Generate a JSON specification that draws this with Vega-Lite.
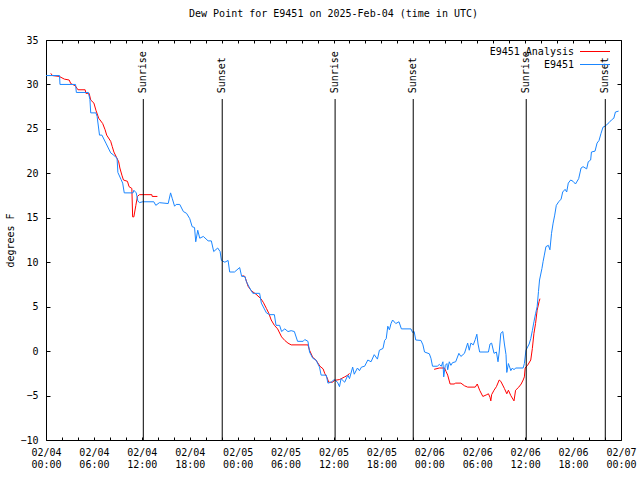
{
  "$schema": "https://vega.github.io/schema/vega-lite/v6.json",
  "width": 575,
  "height": 400,
  "autosize": {"type": "none"},
  "padding": {"left": 46, "top": 40, "right": 19, "bottom": 40},
  "background": "white",
  "title": {"text": "Dew Point for E9451 on 2025-Feb-04 (time in UTC)", "font": "DejaVu Sans Mono", "fontSize": 10, "fontWeight": "normal", "color": "black", "offset": 16, "anchor": "middle"},
  "datasets": {
    "dew": [
      {"s":"E9451 Analysis","g":"a1","t":"2025-02-04T00:36:00Z","v":31.25},
      {"s":"E9451 Analysis","g":"a1","t":"2025-02-04T00:48:00Z","v":31.0},
      {"s":"E9451 Analysis","g":"a1","t":"2025-02-04T01:40:00Z","v":30.9},
      {"s":"E9451 Analysis","g":"a1","t":"2025-02-04T02:18:00Z","v":30.6},
      {"s":"E9451 Analysis","g":"a1","t":"2025-02-04T02:54:00Z","v":30.5},
      {"s":"E9451 Analysis","g":"a1","t":"2025-02-04T03:06:00Z","v":30.1},
      {"s":"E9451 Analysis","g":"a1","t":"2025-02-04T03:40:00Z","v":29.85},
      {"s":"E9451 Analysis","g":"a1","t":"2025-02-04T04:00:00Z","v":29.4},
      {"s":"E9451 Analysis","g":"a1","t":"2025-02-04T04:54:00Z","v":29.4},
      {"s":"E9451 Analysis","g":"a1","t":"2025-02-04T05:00:00Z","v":29.0},
      {"s":"E9451 Analysis","g":"a1","t":"2025-02-04T05:24:00Z","v":29.0},
      {"s":"E9451 Analysis","g":"a1","t":"2025-02-04T05:36:00Z","v":28.25},
      {"s":"E9451 Analysis","g":"a1","t":"2025-02-04T06:00:00Z","v":27.9},
      {"s":"E9451 Analysis","g":"a1","t":"2025-02-04T06:15:00Z","v":27.1},
      {"s":"E9451 Analysis","g":"a1","t":"2025-02-04T06:36:00Z","v":26.2},
      {"s":"E9451 Analysis","g":"a1","t":"2025-02-04T07:06:00Z","v":25.6},
      {"s":"E9451 Analysis","g":"a1","t":"2025-02-04T07:24:00Z","v":24.9},
      {"s":"E9451 Analysis","g":"a1","t":"2025-02-04T07:36:00Z","v":24.3},
      {"s":"E9451 Analysis","g":"a1","t":"2025-02-04T08:06:00Z","v":23.6},
      {"s":"E9451 Analysis","g":"a1","t":"2025-02-04T08:18:00Z","v":23.0},
      {"s":"E9451 Analysis","g":"a1","t":"2025-02-04T08:30:00Z","v":22.4},
      {"s":"E9451 Analysis","g":"a1","t":"2025-02-04T09:06:00Z","v":21.3},
      {"s":"E9451 Analysis","g":"a1","t":"2025-02-04T09:15:00Z","v":20.6},
      {"s":"E9451 Analysis","g":"a1","t":"2025-02-04T09:30:00Z","v":19.8},
      {"s":"E9451 Analysis","g":"a1","t":"2025-02-04T09:42:00Z","v":19.25},
      {"s":"E9451 Analysis","g":"a1","t":"2025-02-04T10:12:00Z","v":19.1},
      {"s":"E9451 Analysis","g":"a1","t":"2025-02-04T10:24:00Z","v":18.5},
      {"s":"E9451 Analysis","g":"a1","t":"2025-02-04T10:45:00Z","v":18.3},
      {"s":"E9451 Analysis","g":"a1","t":"2025-02-04T10:51:00Z","v":15.1},
      {"s":"E9451 Analysis","g":"a1","t":"2025-02-04T11:00:00Z","v":15.1},
      {"s":"E9451 Analysis","g":"a1","t":"2025-02-04T11:15:00Z","v":16.4},
      {"s":"E9451 Analysis","g":"a1","t":"2025-02-04T11:27:00Z","v":17.4},
      {"s":"E9451 Analysis","g":"a1","t":"2025-02-04T11:42:00Z","v":17.6},
      {"s":"E9451 Analysis","g":"a1","t":"2025-02-04T13:15:00Z","v":17.6},
      {"s":"E9451 Analysis","g":"a1","t":"2025-02-04T13:18:00Z","v":17.4},
      {"s":"E9451 Analysis","g":"a1","t":"2025-02-04T13:57:00Z","v":17.4},
      {"s":"E9451 Analysis","g":"a2","t":"2025-02-05T00:36:00Z","v":8.5},
      {"s":"E9451 Analysis","g":"a2","t":"2025-02-05T00:54:00Z","v":8.4},
      {"s":"E9451 Analysis","g":"a2","t":"2025-02-05T01:18:00Z","v":7.3},
      {"s":"E9451 Analysis","g":"a2","t":"2025-02-05T01:42:00Z","v":6.8},
      {"s":"E9451 Analysis","g":"a2","t":"2025-02-05T02:18:00Z","v":6.4},
      {"s":"E9451 Analysis","g":"a2","t":"2025-02-05T02:54:00Z","v":5.9},
      {"s":"E9451 Analysis","g":"a2","t":"2025-02-05T03:12:00Z","v":5.5},
      {"s":"E9451 Analysis","g":"a2","t":"2025-02-05T03:36:00Z","v":4.8},
      {"s":"E9451 Analysis","g":"a2","t":"2025-02-05T03:54:00Z","v":4.25},
      {"s":"E9451 Analysis","g":"a2","t":"2025-02-05T04:12:00Z","v":3.5},
      {"s":"E9451 Analysis","g":"a2","t":"2025-02-05T04:36:00Z","v":2.9},
      {"s":"E9451 Analysis","g":"a2","t":"2025-02-05T05:00:00Z","v":2.5},
      {"s":"E9451 Analysis","g":"a2","t":"2025-02-05T05:30:00Z","v":1.6},
      {"s":"E9451 Analysis","g":"a2","t":"2025-02-05T05:54:00Z","v":1.2},
      {"s":"E9451 Analysis","g":"a2","t":"2025-02-05T06:18:00Z","v":0.9},
      {"s":"E9451 Analysis","g":"a2","t":"2025-02-05T06:42:00Z","v":0.7},
      {"s":"E9451 Analysis","g":"a2","t":"2025-02-05T08:48:00Z","v":0.7},
      {"s":"E9451 Analysis","g":"a2","t":"2025-02-05T09:00:00Z","v":0.1},
      {"s":"E9451 Analysis","g":"a2","t":"2025-02-05T09:24:00Z","v":-0.7},
      {"s":"E9451 Analysis","g":"a2","t":"2025-02-05T09:48:00Z","v":-1.0},
      {"s":"E9451 Analysis","g":"a2","t":"2025-02-05T10:18:00Z","v":-1.7},
      {"s":"E9451 Analysis","g":"a2","t":"2025-02-05T10:42:00Z","v":-2.0},
      {"s":"E9451 Analysis","g":"a2","t":"2025-02-05T10:54:00Z","v":-2.5},
      {"s":"E9451 Analysis","g":"a2","t":"2025-02-05T11:12:00Z","v":-3.0},
      {"s":"E9451 Analysis","g":"a2","t":"2025-02-05T11:24:00Z","v":-3.5},
      {"s":"E9451 Analysis","g":"a2","t":"2025-02-05T11:54:00Z","v":-3.5},
      {"s":"E9451 Analysis","g":"a2","t":"2025-02-05T12:06:00Z","v":-3.3},
      {"s":"E9451 Analysis","g":"a2","t":"2025-02-05T12:45:00Z","v":-3.2},
      {"s":"E9451 Analysis","g":"a2","t":"2025-02-05T13:24:00Z","v":-2.9},
      {"s":"E9451 Analysis","g":"a2","t":"2025-02-05T13:48:00Z","v":-2.7},
      {"s":"E9451 Analysis","g":"a2","t":"2025-02-05T14:00:00Z","v":-2.5},
      {"s":"E9451 Analysis","g":"a3","t":"2025-02-06T00:36:00Z","v":-2.05},
      {"s":"E9451 Analysis","g":"a3","t":"2025-02-06T01:15:00Z","v":-1.9},
      {"s":"E9451 Analysis","g":"a3","t":"2025-02-06T01:54:00Z","v":-1.9},
      {"s":"E9451 Analysis","g":"a3","t":"2025-02-06T02:06:00Z","v":-2.3},
      {"s":"E9451 Analysis","g":"a3","t":"2025-02-06T02:18:00Z","v":-2.7},
      {"s":"E9451 Analysis","g":"a3","t":"2025-02-06T02:36:00Z","v":-3.7},
      {"s":"E9451 Analysis","g":"a3","t":"2025-02-06T03:06:00Z","v":-3.7},
      {"s":"E9451 Analysis","g":"a3","t":"2025-02-06T03:18:00Z","v":-3.6},
      {"s":"E9451 Analysis","g":"a3","t":"2025-02-06T03:57:00Z","v":-3.6},
      {"s":"E9451 Analysis","g":"a3","t":"2025-02-06T04:24:00Z","v":-3.9},
      {"s":"E9451 Analysis","g":"a3","t":"2025-02-06T04:48:00Z","v":-4.05},
      {"s":"E9451 Analysis","g":"a3","t":"2025-02-06T05:45:00Z","v":-4.05},
      {"s":"E9451 Analysis","g":"a3","t":"2025-02-06T06:00:00Z","v":-3.7},
      {"s":"E9451 Analysis","g":"a3","t":"2025-02-06T06:18:00Z","v":-4.4},
      {"s":"E9451 Analysis","g":"a3","t":"2025-02-06T06:42:00Z","v":-5.1},
      {"s":"E9451 Analysis","g":"a3","t":"2025-02-06T07:12:00Z","v":-4.9},
      {"s":"E9451 Analysis","g":"a3","t":"2025-02-06T07:24:00Z","v":-4.8},
      {"s":"E9451 Analysis","g":"a3","t":"2025-02-06T07:36:00Z","v":-5.2},
      {"s":"E9451 Analysis","g":"a3","t":"2025-02-06T07:42:00Z","v":-5.6},
      {"s":"E9451 Analysis","g":"a3","t":"2025-02-06T07:48:00Z","v":-4.9},
      {"s":"E9451 Analysis","g":"a3","t":"2025-02-06T08:06:00Z","v":-4.4},
      {"s":"E9451 Analysis","g":"a3","t":"2025-02-06T08:24:00Z","v":-4.0},
      {"s":"E9451 Analysis","g":"a3","t":"2025-02-06T08:45:00Z","v":-3.25},
      {"s":"E9451 Analysis","g":"a3","t":"2025-02-06T08:57:00Z","v":-3.4},
      {"s":"E9451 Analysis","g":"a3","t":"2025-02-06T09:24:00Z","v":-4.2},
      {"s":"E9451 Analysis","g":"a3","t":"2025-02-06T09:42:00Z","v":-4.8},
      {"s":"E9451 Analysis","g":"a3","t":"2025-02-06T09:54:00Z","v":-4.4},
      {"s":"E9451 Analysis","g":"a3","t":"2025-02-06T10:12:00Z","v":-5.0},
      {"s":"E9451 Analysis","g":"a3","t":"2025-02-06T10:36:00Z","v":-5.6},
      {"s":"E9451 Analysis","g":"a3","t":"2025-02-06T10:48:00Z","v":-4.4},
      {"s":"E9451 Analysis","g":"a3","t":"2025-02-06T11:12:00Z","v":-4.05},
      {"s":"E9451 Analysis","g":"a3","t":"2025-02-06T11:30:00Z","v":-3.7},
      {"s":"E9451 Analysis","g":"a3","t":"2025-02-06T11:45:00Z","v":-3.25},
      {"s":"E9451 Analysis","g":"a3","t":"2025-02-06T11:54:00Z","v":-2.9},
      {"s":"E9451 Analysis","g":"a3","t":"2025-02-06T12:00:00Z","v":-1.9},
      {"s":"E9451 Analysis","g":"a3","t":"2025-02-06T12:18:00Z","v":-1.6},
      {"s":"E9451 Analysis","g":"a3","t":"2025-02-06T12:42:00Z","v":-1.0},
      {"s":"E9451 Analysis","g":"a3","t":"2025-02-06T12:54:00Z","v":0.3},
      {"s":"E9451 Analysis","g":"a3","t":"2025-02-06T13:06:00Z","v":2.0},
      {"s":"E9451 Analysis","g":"a3","t":"2025-02-06T13:18:00Z","v":3.1},
      {"s":"E9451 Analysis","g":"a3","t":"2025-02-06T13:30:00Z","v":4.6},
      {"s":"E9451 Analysis","g":"a3","t":"2025-02-06T13:45:00Z","v":5.6},
      {"s":"E9451 Analysis","g":"a3","t":"2025-02-06T13:51:00Z","v":5.9},
      {"s":"E9451","g":"b","t":"2025-02-04T00:00:00Z","v":31.0},
      {"s":"E9451","g":"b","t":"2025-02-04T01:42:00Z","v":31.0},
      {"s":"E9451","g":"b","t":"2025-02-04T01:45:00Z","v":30.0},
      {"s":"E9451","g":"b","t":"2025-02-04T03:42:00Z","v":30.0},
      {"s":"E9451","g":"b","t":"2025-02-04T03:48:00Z","v":29.1},
      {"s":"E9451","g":"b","t":"2025-02-04T05:18:00Z","v":29.1},
      {"s":"E9451","g":"b","t":"2025-02-04T05:30:00Z","v":28.3},
      {"s":"E9451","g":"b","t":"2025-02-04T05:36:00Z","v":26.8},
      {"s":"E9451","g":"b","t":"2025-02-04T06:15:00Z","v":26.8},
      {"s":"E9451","g":"b","t":"2025-02-04T06:24:00Z","v":26.4},
      {"s":"E9451","g":"b","t":"2025-02-04T06:42:00Z","v":24.3},
      {"s":"E9451","g":"b","t":"2025-02-04T07:00:00Z","v":24.3},
      {"s":"E9451","g":"b","t":"2025-02-04T07:30:00Z","v":23.4},
      {"s":"E9451","g":"b","t":"2025-02-04T08:06:00Z","v":22.3},
      {"s":"E9451","g":"b","t":"2025-02-04T08:24:00Z","v":22.1},
      {"s":"E9451","g":"b","t":"2025-02-04T08:54:00Z","v":21.7},
      {"s":"E9451","g":"b","t":"2025-02-04T09:00:00Z","v":20.1},
      {"s":"E9451","g":"b","t":"2025-02-04T09:24:00Z","v":19.3},
      {"s":"E9451","g":"b","t":"2025-02-04T09:36:00Z","v":18.9},
      {"s":"E9451","g":"b","t":"2025-02-04T09:48:00Z","v":17.8},
      {"s":"E9451","g":"b","t":"2025-02-04T10:54:00Z","v":17.8},
      {"s":"E9451","g":"b","t":"2025-02-04T11:00:00Z","v":18.1},
      {"s":"E9451","g":"b","t":"2025-02-04T11:18:00Z","v":17.8},
      {"s":"E9451","g":"b","t":"2025-02-04T11:30:00Z","v":16.9},
      {"s":"E9451","g":"b","t":"2025-02-04T11:42:00Z","v":16.7},
      {"s":"E9451","g":"b","t":"2025-02-04T12:06:00Z","v":16.8},
      {"s":"E9451","g":"b","t":"2025-02-04T13:30:00Z","v":16.8},
      {"s":"E9451","g":"b","t":"2025-02-04T13:45:00Z","v":16.4},
      {"s":"E9451","g":"b","t":"2025-02-04T14:12:00Z","v":16.7},
      {"s":"E9451","g":"b","t":"2025-02-04T15:18:00Z","v":16.6},
      {"s":"E9451","g":"b","t":"2025-02-04T15:36:00Z","v":17.8},
      {"s":"E9451","g":"b","t":"2025-02-04T15:48:00Z","v":17.2},
      {"s":"E9451","g":"b","t":"2025-02-04T16:06:00Z","v":16.3},
      {"s":"E9451","g":"b","t":"2025-02-04T16:18:00Z","v":16.5},
      {"s":"E9451","g":"b","t":"2025-02-04T16:45:00Z","v":16.5},
      {"s":"E9451","g":"b","t":"2025-02-04T17:12:00Z","v":15.7},
      {"s":"E9451","g":"b","t":"2025-02-04T17:36:00Z","v":15.5},
      {"s":"E9451","g":"b","t":"2025-02-04T18:00:00Z","v":14.9},
      {"s":"E9451","g":"b","t":"2025-02-04T18:18:00Z","v":14.0},
      {"s":"E9451","g":"b","t":"2025-02-04T18:36:00Z","v":13.9},
      {"s":"E9451","g":"b","t":"2025-02-04T18:45:00Z","v":12.3},
      {"s":"E9451","g":"b","t":"2025-02-04T19:00:00Z","v":13.6},
      {"s":"E9451","g":"b","t":"2025-02-04T19:15:00Z","v":12.7},
      {"s":"E9451","g":"b","t":"2025-02-04T19:42:00Z","v":12.9},
      {"s":"E9451","g":"b","t":"2025-02-04T20:18:00Z","v":12.4},
      {"s":"E9451","g":"b","t":"2025-02-04T20:42:00Z","v":12.4},
      {"s":"E9451","g":"b","t":"2025-02-04T21:00:00Z","v":11.2},
      {"s":"E9451","g":"b","t":"2025-02-04T21:30:00Z","v":11.6},
      {"s":"E9451","g":"b","t":"2025-02-04T21:48:00Z","v":11.2},
      {"s":"E9451","g":"b","t":"2025-02-04T21:58:00Z","v":10.2},
      {"s":"E9451","g":"b","t":"2025-02-04T22:24:00Z","v":10.0},
      {"s":"E9451","g":"b","t":"2025-02-04T22:48:00Z","v":10.2},
      {"s":"E9451","g":"b","t":"2025-02-04T23:00:00Z","v":8.9},
      {"s":"E9451","g":"b","t":"2025-02-04T23:36:00Z","v":8.9},
      {"s":"E9451","g":"b","t":"2025-02-05T00:15:00Z","v":9.4},
      {"s":"E9451","g":"b","t":"2025-02-05T00:30:00Z","v":8.4},
      {"s":"E9451","g":"b","t":"2025-02-05T00:54:00Z","v":8.4},
      {"s":"E9451","g":"b","t":"2025-02-05T01:06:00Z","v":7.8},
      {"s":"E9451","g":"b","t":"2025-02-05T01:30:00Z","v":7.1},
      {"s":"E9451","g":"b","t":"2025-02-05T01:54:00Z","v":6.5},
      {"s":"E9451","g":"b","t":"2025-02-05T02:45:00Z","v":6.5},
      {"s":"E9451","g":"b","t":"2025-02-05T02:58:00Z","v":5.4},
      {"s":"E9451","g":"b","t":"2025-02-05T03:36:00Z","v":4.3},
      {"s":"E9451","g":"b","t":"2025-02-05T04:00:00Z","v":4.1},
      {"s":"E9451","g":"b","t":"2025-02-05T04:36:00Z","v":4.1},
      {"s":"E9451","g":"b","t":"2025-02-05T04:48:00Z","v":2.9},
      {"s":"E9451","g":"b","t":"2025-02-05T05:15:00Z","v":2.9},
      {"s":"E9451","g":"b","t":"2025-02-05T05:30:00Z","v":2.2},
      {"s":"E9451","g":"b","t":"2025-02-05T05:54:00Z","v":2.5},
      {"s":"E9451","g":"b","t":"2025-02-05T06:18:00Z","v":2.2},
      {"s":"E9451","g":"b","t":"2025-02-05T06:42:00Z","v":2.3},
      {"s":"E9451","g":"b","t":"2025-02-05T07:06:00Z","v":2.2},
      {"s":"E9451","g":"b","t":"2025-02-05T07:30:00Z","v":1.1},
      {"s":"E9451","g":"b","t":"2025-02-05T08:12:00Z","v":1.1},
      {"s":"E9451","g":"b","t":"2025-02-05T08:24:00Z","v":1.3},
      {"s":"E9451","g":"b","t":"2025-02-05T08:48:00Z","v":1.1},
      {"s":"E9451","g":"b","t":"2025-02-05T09:00:00Z","v":-0.1},
      {"s":"E9451","g":"b","t":"2025-02-05T09:24:00Z","v":-0.8},
      {"s":"E9451","g":"b","t":"2025-02-05T09:48:00Z","v":-1.0},
      {"s":"E9451","g":"b","t":"2025-02-05T10:15:00Z","v":-1.8},
      {"s":"E9451","g":"b","t":"2025-02-05T10:27:00Z","v":-2.7},
      {"s":"E9451","g":"b","t":"2025-02-05T11:06:00Z","v":-2.7},
      {"s":"E9451","g":"b","t":"2025-02-05T11:18:00Z","v":-3.6},
      {"s":"E9451","g":"b","t":"2025-02-05T11:42:00Z","v":-3.5},
      {"s":"E9451","g":"b","t":"2025-02-05T12:06:00Z","v":-3.2},
      {"s":"E9451","g":"b","t":"2025-02-05T12:30:00Z","v":-3.5},
      {"s":"E9451","g":"b","t":"2025-02-05T12:45:00Z","v":-4.0},
      {"s":"E9451","g":"b","t":"2025-02-05T12:57:00Z","v":-3.1},
      {"s":"E9451","g":"b","t":"2025-02-05T13:24:00Z","v":-3.5},
      {"s":"E9451","g":"b","t":"2025-02-05T13:48:00Z","v":-2.7},
      {"s":"E9451","g":"b","t":"2025-02-05T14:00:00Z","v":-3.1},
      {"s":"E9451","g":"b","t":"2025-02-05T14:24:00Z","v":-1.8},
      {"s":"E9451","g":"b","t":"2025-02-05T14:36:00Z","v":-2.6},
      {"s":"E9451","g":"b","t":"2025-02-05T15:00:00Z","v":-1.9},
      {"s":"E9451","g":"b","t":"2025-02-05T15:15:00Z","v":-2.2},
      {"s":"E9451","g":"b","t":"2025-02-05T15:30:00Z","v":-1.8},
      {"s":"E9451","g":"b","t":"2025-02-05T15:54:00Z","v":-1.7},
      {"s":"E9451","g":"b","t":"2025-02-05T16:18:00Z","v":-1.0},
      {"s":"E9451","g":"b","t":"2025-02-05T16:42:00Z","v":-1.2},
      {"s":"E9451","g":"b","t":"2025-02-05T17:06:00Z","v":-0.4},
      {"s":"E9451","g":"b","t":"2025-02-05T17:30:00Z","v":-0.9},
      {"s":"E9451","g":"b","t":"2025-02-05T17:45:00Z","v":0.1},
      {"s":"E9451","g":"b","t":"2025-02-05T18:12:00Z","v":0.3},
      {"s":"E9451","g":"b","t":"2025-02-05T18:24:00Z","v":1.2},
      {"s":"E9451","g":"b","t":"2025-02-05T18:36:00Z","v":1.4},
      {"s":"E9451","g":"b","t":"2025-02-05T18:48:00Z","v":2.8},
      {"s":"E9451","g":"b","t":"2025-02-05T19:00:00Z","v":2.4},
      {"s":"E9451","g":"b","t":"2025-02-05T19:12:00Z","v":3.1},
      {"s":"E9451","g":"b","t":"2025-02-05T19:24:00Z","v":3.5},
      {"s":"E9451","g":"b","t":"2025-02-05T19:48:00Z","v":3.1},
      {"s":"E9451","g":"b","t":"2025-02-05T20:12:00Z","v":3.3},
      {"s":"E9451","g":"b","t":"2025-02-05T20:30:00Z","v":2.5},
      {"s":"E9451","g":"b","t":"2025-02-05T21:42:00Z","v":2.5},
      {"s":"E9451","g":"b","t":"2025-02-05T21:54:00Z","v":2.1},
      {"s":"E9451","g":"b","t":"2025-02-05T22:06:00Z","v":2.2},
      {"s":"E9451","g":"b","t":"2025-02-05T22:18:00Z","v":1.25},
      {"s":"E9451","g":"b","t":"2025-02-05T22:57:00Z","v":1.2},
      {"s":"E9451","g":"b","t":"2025-02-05T23:12:00Z","v":0.7},
      {"s":"E9451","g":"b","t":"2025-02-05T23:24:00Z","v":-0.1},
      {"s":"E9451","g":"b","t":"2025-02-06T00:00:00Z","v":-0.3},
      {"s":"E9451","g":"b","t":"2025-02-06T00:12:00Z","v":-0.8},
      {"s":"E9451","g":"b","t":"2025-02-06T00:24:00Z","v":-1.7},
      {"s":"E9451","g":"b","t":"2025-02-06T01:00:00Z","v":-1.7},
      {"s":"E9451","g":"b","t":"2025-02-06T01:15:00Z","v":-1.5},
      {"s":"E9451","g":"b","t":"2025-02-06T01:30:00Z","v":-1.7},
      {"s":"E9451","g":"b","t":"2025-02-06T01:42:00Z","v":-1.2},
      {"s":"E9451","g":"b","t":"2025-02-06T01:48:00Z","v":-2.9},
      {"s":"E9451","g":"b","t":"2025-02-06T02:00:00Z","v":-1.6},
      {"s":"E9451","g":"b","t":"2025-02-06T02:12:00Z","v":-1.4},
      {"s":"E9451","g":"b","t":"2025-02-06T02:18:00Z","v":-2.1},
      {"s":"E9451","g":"b","t":"2025-02-06T02:30:00Z","v":-1.2},
      {"s":"E9451","g":"b","t":"2025-02-06T02:42:00Z","v":-1.6},
      {"s":"E9451","g":"b","t":"2025-02-06T02:54:00Z","v":-1.3},
      {"s":"E9451","g":"b","t":"2025-02-06T03:18:00Z","v":-1.2},
      {"s":"E9451","g":"b","t":"2025-02-06T03:42:00Z","v":-0.25},
      {"s":"E9451","g":"b","t":"2025-02-06T03:57:00Z","v":-0.6},
      {"s":"E9451","g":"b","t":"2025-02-06T04:24:00Z","v":-0.25},
      {"s":"E9451","g":"b","t":"2025-02-06T04:48:00Z","v":0.9},
      {"s":"E9451","g":"b","t":"2025-02-06T05:00:00Z","v":0.1},
      {"s":"E9451","g":"b","t":"2025-02-06T05:12:00Z","v":0.9},
      {"s":"E9451","g":"b","t":"2025-02-06T05:30:00Z","v":0.7},
      {"s":"E9451","g":"b","t":"2025-02-06T05:45:00Z","v":1.3},
      {"s":"E9451","g":"b","t":"2025-02-06T05:57:00Z","v":1.9},
      {"s":"E9451","g":"b","t":"2025-02-06T06:06:00Z","v":0.8},
      {"s":"E9451","g":"b","t":"2025-02-06T06:18:00Z","v":-0.1},
      {"s":"E9451","g":"b","t":"2025-02-06T07:24:00Z","v":-0.1},
      {"s":"E9451","g":"b","t":"2025-02-06T07:36:00Z","v":0.8},
      {"s":"E9451","g":"b","t":"2025-02-06T07:48:00Z","v":0.9},
      {"s":"E9451","g":"b","t":"2025-02-06T08:06:00Z","v":-0.25},
      {"s":"E9451","g":"b","t":"2025-02-06T08:24:00Z","v":-0.1},
      {"s":"E9451","g":"b","t":"2025-02-06T08:36:00Z","v":-1.2},
      {"s":"E9451","g":"b","t":"2025-02-06T08:45:00Z","v":-0.1},
      {"s":"E9451","g":"b","t":"2025-02-06T08:57:00Z","v":2.0},
      {"s":"E9451","g":"b","t":"2025-02-06T09:12:00Z","v":2.2},
      {"s":"E9451","g":"b","t":"2025-02-06T09:24:00Z","v":0.8},
      {"s":"E9451","g":"b","t":"2025-02-06T09:36:00Z","v":-0.4},
      {"s":"E9451","g":"b","t":"2025-02-06T09:42:00Z","v":-2.4},
      {"s":"E9451","g":"b","t":"2025-02-06T09:54:00Z","v":-1.4},
      {"s":"E9451","g":"b","t":"2025-02-06T10:06:00Z","v":-1.9},
      {"s":"E9451","g":"b","t":"2025-02-06T10:12:00Z","v":-2.2},
      {"s":"E9451","g":"b","t":"2025-02-06T10:24:00Z","v":-1.9},
      {"s":"E9451","g":"b","t":"2025-02-06T10:36:00Z","v":-2.1},
      {"s":"E9451","g":"b","t":"2025-02-06T10:48:00Z","v":-1.9},
      {"s":"E9451","g":"b","t":"2025-02-06T11:45:00Z","v":-1.9},
      {"s":"E9451","g":"b","t":"2025-02-06T11:54:00Z","v":-1.4},
      {"s":"E9451","g":"b","t":"2025-02-06T12:06:00Z","v":0.1},
      {"s":"E9451","g":"b","t":"2025-02-06T12:30:00Z","v":0.8},
      {"s":"E9451","g":"b","t":"2025-02-06T12:42:00Z","v":1.4},
      {"s":"E9451","g":"b","t":"2025-02-06T12:54:00Z","v":2.3},
      {"s":"E9451","g":"b","t":"2025-02-06T13:06:00Z","v":3.3},
      {"s":"E9451","g":"b","t":"2025-02-06T13:18:00Z","v":4.2},
      {"s":"E9451","g":"b","t":"2025-02-06T13:30:00Z","v":5.0},
      {"s":"E9451","g":"b","t":"2025-02-06T13:40:00Z","v":6.7},
      {"s":"E9451","g":"b","t":"2025-02-06T13:48:00Z","v":8.0},
      {"s":"E9451","g":"b","t":"2025-02-06T14:06:00Z","v":9.3},
      {"s":"E9451","g":"b","t":"2025-02-06T14:15:00Z","v":10.1},
      {"s":"E9451","g":"b","t":"2025-02-06T14:24:00Z","v":10.8},
      {"s":"E9451","g":"b","t":"2025-02-06T14:36:00Z","v":11.75},
      {"s":"E9451","g":"b","t":"2025-02-06T14:54:00Z","v":11.9},
      {"s":"E9451","g":"b","t":"2025-02-06T15:06:00Z","v":11.4},
      {"s":"E9451","g":"b","t":"2025-02-06T15:18:00Z","v":13.25},
      {"s":"E9451","g":"b","t":"2025-02-06T15:30:00Z","v":14.4},
      {"s":"E9451","g":"b","t":"2025-02-06T15:42:00Z","v":15.3},
      {"s":"E9451","g":"b","t":"2025-02-06T15:54:00Z","v":16.4},
      {"s":"E9451","g":"b","t":"2025-02-06T16:12:00Z","v":16.8},
      {"s":"E9451","g":"b","t":"2025-02-06T16:30:00Z","v":17.1},
      {"s":"E9451","g":"b","t":"2025-02-06T16:42:00Z","v":17.9},
      {"s":"E9451","g":"b","t":"2025-02-06T17:00:00Z","v":18.2},
      {"s":"E9451","g":"b","t":"2025-02-06T17:12:00Z","v":17.9},
      {"s":"E9451","g":"b","t":"2025-02-06T17:24:00Z","v":18.9},
      {"s":"E9451","g":"b","t":"2025-02-06T17:42:00Z","v":19.25},
      {"s":"E9451","g":"b","t":"2025-02-06T18:00:00Z","v":19.1},
      {"s":"E9451","g":"b","t":"2025-02-06T18:18:00Z","v":18.8},
      {"s":"E9451","g":"b","t":"2025-02-06T18:42:00Z","v":19.4},
      {"s":"E9451","g":"b","t":"2025-02-06T19:00:00Z","v":20.6},
      {"s":"E9451","g":"b","t":"2025-02-06T19:15:00Z","v":20.75},
      {"s":"E9451","g":"b","t":"2025-02-06T19:42:00Z","v":20.5},
      {"s":"E9451","g":"b","t":"2025-02-06T19:54:00Z","v":21.3},
      {"s":"E9451","g":"b","t":"2025-02-06T20:12:00Z","v":21.5},
      {"s":"E9451","g":"b","t":"2025-02-06T20:18:00Z","v":22.4},
      {"s":"E9451","g":"b","t":"2025-02-06T20:45:00Z","v":22.5},
      {"s":"E9451","g":"b","t":"2025-02-06T21:00:00Z","v":23.4},
      {"s":"E9451","g":"b","t":"2025-02-06T21:15:00Z","v":23.7},
      {"s":"E9451","g":"b","t":"2025-02-06T21:30:00Z","v":24.5},
      {"s":"E9451","g":"b","t":"2025-02-06T21:45:00Z","v":25.2},
      {"s":"E9451","g":"b","t":"2025-02-06T22:00:00Z","v":25.3},
      {"s":"E9451","g":"b","t":"2025-02-06T22:30:00Z","v":25.7},
      {"s":"E9451","g":"b","t":"2025-02-06T22:48:00Z","v":26.0},
      {"s":"E9451","g":"b","t":"2025-02-06T23:06:00Z","v":26.2},
      {"s":"E9451","g":"b","t":"2025-02-06T23:18:00Z","v":26.9},
      {"s":"E9451","g":"b","t":"2025-02-06T23:42:00Z","v":27.0}
    ],
    "sun": [
      {"t":"2025-02-04T12:11:00Z","e":"Sunrise"},
      {"t":"2025-02-04T22:04:00Z","e":"Sunset"},
      {"t":"2025-02-05T12:12:00Z","e":"Sunrise"},
      {"t":"2025-02-05T21:59:00Z","e":"Sunset"},
      {"t":"2025-02-06T12:08:00Z","e":"Sunrise"},
      {"t":"2025-02-06T22:02:00Z","e":"Sunset"}
    ]
  },
  "layer": [
    {
      "data": {"name": "dew"},
      "mark": {"type": "line", "strokeWidth": 1, "clip": true},
      "encoding": {
        "x": {"field": "t", "type": "temporal", "scale": {"type": "utc", "domain": [1738627200000, 1738886400000]},
          "axis": {"orient": "bottom", "values": [1738627200000,1738634400000,1738641600000,1738648800000,1738656000000,1738663200000,1738670400000,1738677600000,1738684800000,1738692000000,1738699200000,1738706400000,1738713600000,1738720800000,1738728000000,1738735200000,1738742400000,1738749600000,1738756800000,1738764000000,1738771200000,1738778400000,1738785600000,1738792800000,1738800000000,1738807200000,1738814400000,1738821600000,1738828800000,1738836000000,1738843200000,1738850400000,1738857600000,1738864800000,1738872000000,1738879200000,1738886400000], "labelExpr": "utchours(datum.value) % 6 == 0 ? [utcFormat(datum.value, '%m/%d'), utcFormat(datum.value, '%H:%M')] : ''", "labelOverlap": false, "labelFlush": false, "tickSize": -3, "labelPadding": 10, "labelBaseline": "top", "labelLineHeight": 12, "domain": false, "grid": false, "title": null}},
        "y": {"field": "v", "type": "quantitative", "scale": {"domain": [-10, 35], "nice": false, "zero": false},
          "axis": {"orient": "left", "values": [-10, -5, 0, 5, 10, 15, 20, 25, 30, 35], "tickSize": -4, "labelPadding": 12, "domain": false, "grid": false, "title": "degrees F", "titleX": -36, "titleY": 200, "titleBaseline": "middle", "titleAngle": 270}},
        "color": {"field": "s", "type": "nominal", "scale": {"domain": ["E9451 Analysis", "E9451"], "range": ["#ff0000", "#1a86ff"]},
          "legend": {"orient": "none", "legendX": 543.5, "legendY": 6, "title": null, "symbolType": "M-3,0H3", "symbolSize": 100, "symbolStrokeWidth": 1, "labelAlign": "right", "labelOffset": -26.5, "rowPadding": 2, "padding": 0, "labelLimit": 300}},
        "detail": {"field": "g"}
      }
    },
    {
      "data": {"name": "sun"},
      "mark": {"type": "rule", "color": "black", "strokeWidth": 1},
      "encoding": {
        "x": {"field": "t", "type": "temporal", "scale": {"type": "utc", "domain": [1738627200000, 1738886400000]},
          "axis": {"orient": "top", "values": [1738627200000,1738634400000,1738641600000,1738648800000,1738656000000,1738663200000,1738670400000,1738677600000,1738684800000,1738692000000,1738699200000,1738706400000,1738713600000,1738720800000,1738728000000,1738735200000,1738742400000,1738749600000,1738756800000,1738764000000,1738771200000,1738778400000,1738785600000,1738792800000,1738800000000,1738807200000,1738814400000,1738821600000,1738828800000,1738836000000,1738843200000,1738850400000,1738857600000,1738864800000,1738872000000,1738879200000,1738886400000], "labels": false, "tickSize": -3, "domain": false, "grid": false, "title": null}},
        "y": {"datum": -10, "type": "quantitative",
          "axis": {"orient": "right", "values": [-10, -5, 0, 5, 10, 15, 20, 25, 30, 35], "labels": false, "tickSize": -4, "domain": false, "grid": false, "title": null}},
        "y2": {"datum": 28.36}
      }
    },
    {
      "data": {"name": "sun"},
      "mark": {"type": "text", "angle": 270, "align": "left", "baseline": "middle", "font": "DejaVu Sans Mono", "fontSize": 10, "color": "black"},
      "encoding": {
        "x": {"field": "t", "type": "temporal", "scale": {"type": "utc", "domain": [1738627200000, 1738886400000]}, "axis": null},
        "y": {"datum": 29.0, "type": "quantitative", "axis": null},
        "text": {"field": "e"}
      }
    }
  ],
  "resolve": {"axis": {"x": "independent", "y": "independent"}},
  "config": {
    "view": {"stroke": "black", "strokeWidth": 1},
    "font": "DejaVu Sans Mono",
    "axis": {"labelFont": "DejaVu Sans Mono", "labelFontSize": 10, "labelColor": "black", "tickColor": "black", "tickWidth": 1, "titleFont": "DejaVu Sans Mono", "titleFontSize": 10, "titleFontWeight": "normal", "titleColor": "black"},
    "legend": {"labelFont": "DejaVu Sans Mono", "labelFontSize": 10, "labelColor": "black"}
  }
}
